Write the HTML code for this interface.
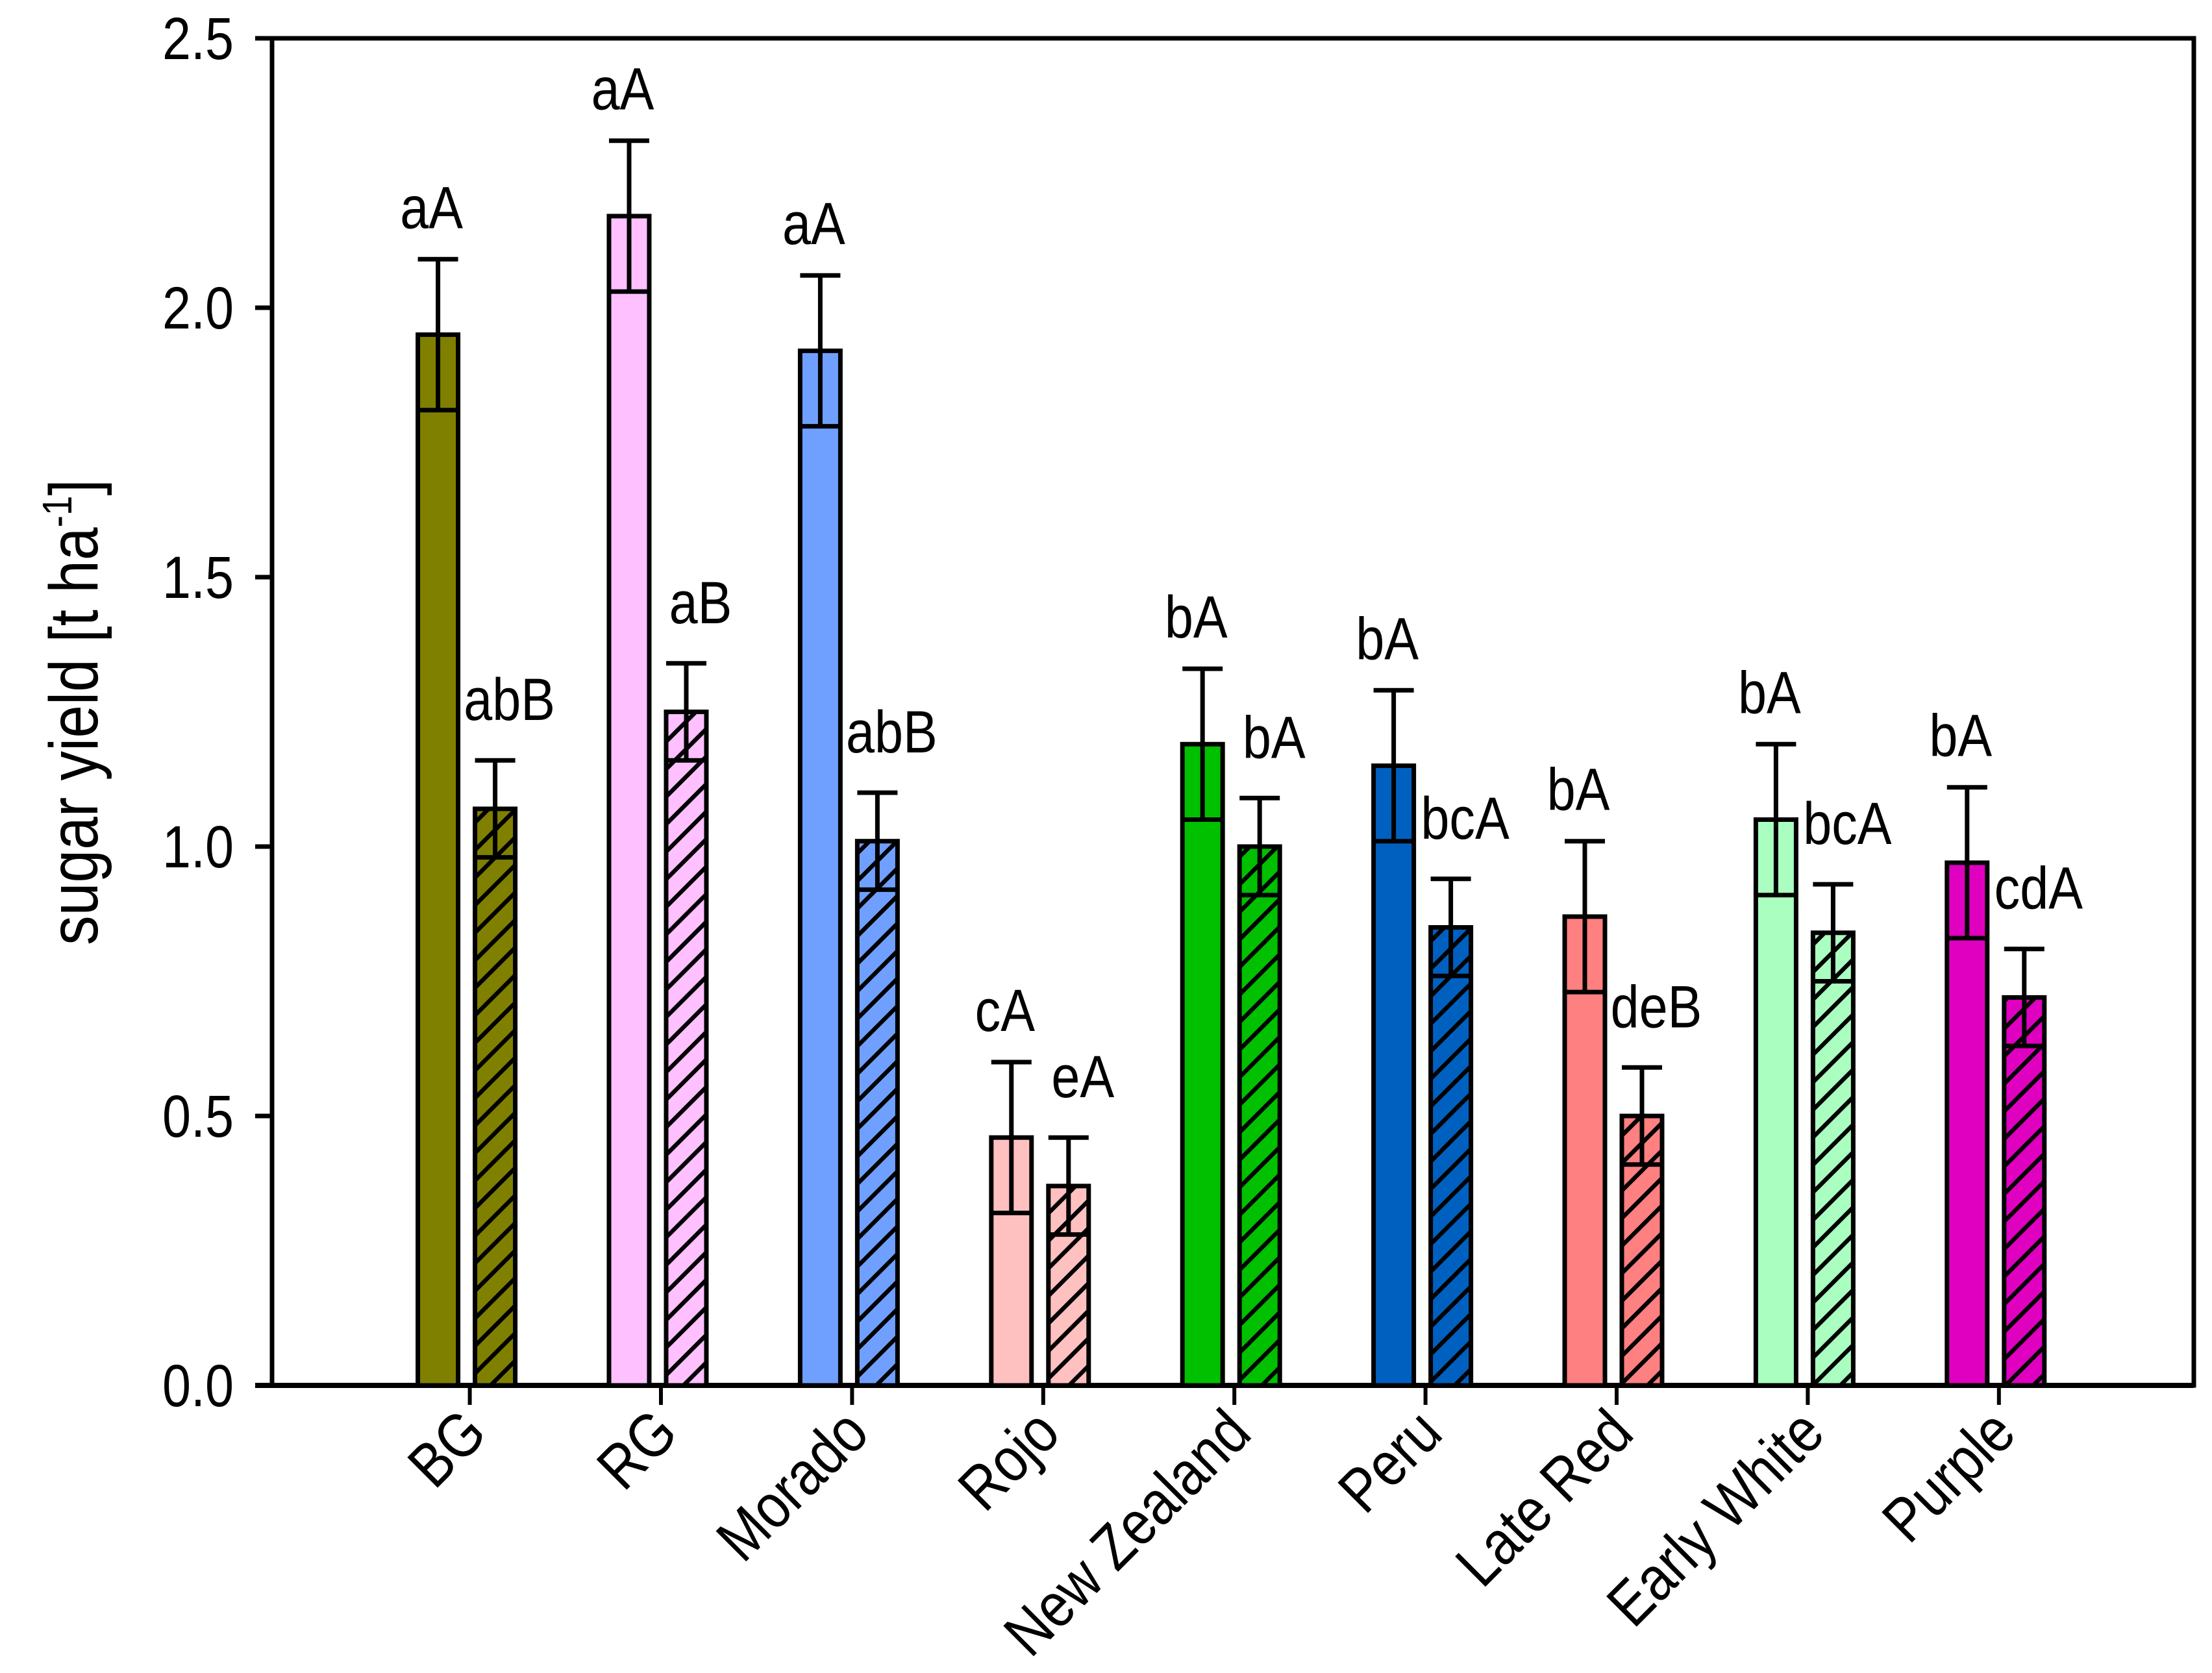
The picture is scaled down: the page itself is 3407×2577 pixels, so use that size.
<!DOCTYPE html>
<html><head><meta charset="utf-8"><style>
html,body{margin:0;padding:0;background:#fff;}
svg{display:block;}
text{font-family:"Liberation Sans",Arial,sans-serif;fill:#000;}
</style></head><body>
<svg id="chart" width="3407" height="2577" viewBox="0 0 3407 2577" xmlns="http://www.w3.org/2000/svg">
<defs id="defs"></defs>
<g id="plot"></g>
</svg>
<script>
const categories = ["BG","RG","Morado","Rojo","New Zealand","Peru","Late Red","Early White","Purple"];
const colors = ["#808000","#FFC0FF","#70A0FF","#FFC0C0","#00C000","#0060C0","#FF8080","#AAFFC0","#E000C0"];
const solidValues = [1.95,2.17,1.92,0.46,1.19,1.15,0.87,1.05,0.97];
const solidErrors = [0.14,0.14,0.14,0.14,0.14,0.14,0.14,0.14,0.14];
const solidLabels = ["aA","aA","aA","cA","bA","bA","bA","bA","bA"];
const hatchValues = [1.07,1.25,1.01,0.37,1.00,0.85,0.50,0.84,0.72];
const hatchErrors = [0.09,0.09,0.09,0.09,0.09,0.09,0.09,0.09,0.09];
const hatchLabels = ["abB","aB","abB","eA","bA","bcA","deB","bcA","cdA"];
const yTicks = [0.0,0.5,1.0,1.5,2.0,2.5];
const yTickLabels = ["0.0","0.5","1.0","1.5","2.0","2.5"];

const NS="http://www.w3.org/2000/svg";
const L=419,R=3379,T=59,B=2134;
const yMax=2.5;
const SX=0.86;
function yScale(v){return B-(v/yMax)*(B-T);}
function xCenter(i){return 723.6+294.4*i;}
const defs=document.getElementById('defs');
const g=document.getElementById('plot');
function mk(tag,attrs,parent){const e=document.createElementNS(NS,tag);for(const k in attrs)e.setAttribute(k,attrs[k]);(parent||g).appendChild(e);return e;}
function txt(x,y,rot,anchor,size){
  return mk('text',{x:0,y:0,'text-anchor':anchor,'font-size':size,
    transform:'translate('+x+','+y+') rotate('+rot+') scale('+SX+',1)'});
}

categories.forEach((c,i)=>{
  const p=mk('pattern',{id:'h'+i,patternUnits:'userSpaceOnUse',width:30,height:30,patternTransform:'rotate(45)'},defs);
  mk('rect',{x:0,y:0,width:30,height:30,fill:colors[i]},p);
  mk('line',{x1:0,y1:0,x2:0,y2:30,stroke:'#000','stroke-width':13},p);
});

const frame=mk('rect',{x:L,y:T,width:R-L,height:B-T,fill:'none',stroke:'#000','stroke-width':7});


const xaxis=mk('line',{x1:393,y1:B,x2:R,y2:B,stroke:'#000','stroke-width':8});



yTicks.forEach((v,i)=>{
  const y=yScale(v);
  const t=mk('line',{x1:393,y1:y,x2:L,y2:y,stroke:'#000','stroke-width':7});
  
  
  const tx=txt(360,y+32,0,'end',92);
  tx.textContent=yTickLabels[i];
  
  
});

const yt=txt(150,1097,-90,'middle',106);
yt.innerHTML='sugar yield [t ha<tspan dy="-40" font-size="64">-1</tspan><tspan dy="40">]</tspan>';



function errBar(cx,v,e,hw){
  const yt=yScale(v+e),yb=yScale(v-e);
  const grp=mk('g',{stroke:'#000','stroke-width':7});
  
  
  mk('line',{x1:cx,y1:yt,x2:cx,y2:yb},grp);
  mk('line',{x1:cx-hw,y1:yt,x2:cx+hw,y2:yt},grp);
  mk('line',{x1:cx-hw,y1:yb,x2:cx+hw,y2:yb},grp);
}

categories.forEach((c,i)=>{
  const cx=xCenter(i);
  const tk=mk('line',{x1:cx,y1:B,x2:cx,y2:B+30,stroke:'#000','stroke-width':6});
  
  
  const lb=txt(cx+30,2212,-45,'end',96);
  lb.textContent=c;
  
  
  const sx=cx-80,sw=62,sy=yScale(solidValues[i]);
  const sb=mk('rect',{x:sx,y:sy,width:sw,height:B-sy,fill:colors[i],stroke:'#000','stroke-width':7});
  
  
  errBar(sx+sw/2,solidValues[i],solidErrors[i],sw/2);
  const sl=txt(sx+sw/2-10,yScale(solidValues[i]+solidErrors[i])-48,0,'middle',92);
  sl.textContent=solidLabels[i];
  
  
  const hx=cx+8,hy=yScale(hatchValues[i]);
  const hb=mk('rect',{x:hx,y:hy,width:sw,height:B-hy,fill:'url(#h'+i+')',stroke:'#000','stroke-width':7});
  
  
  errBar(hx+sw/2,hatchValues[i],hatchErrors[i],sw/2);
  const hl=txt(hx+sw/2+22,yScale(hatchValues[i]+hatchErrors[i])-62,0,'middle',92);
  hl.textContent=hatchLabels[i];
  
  
});
</script>
</body></html>
